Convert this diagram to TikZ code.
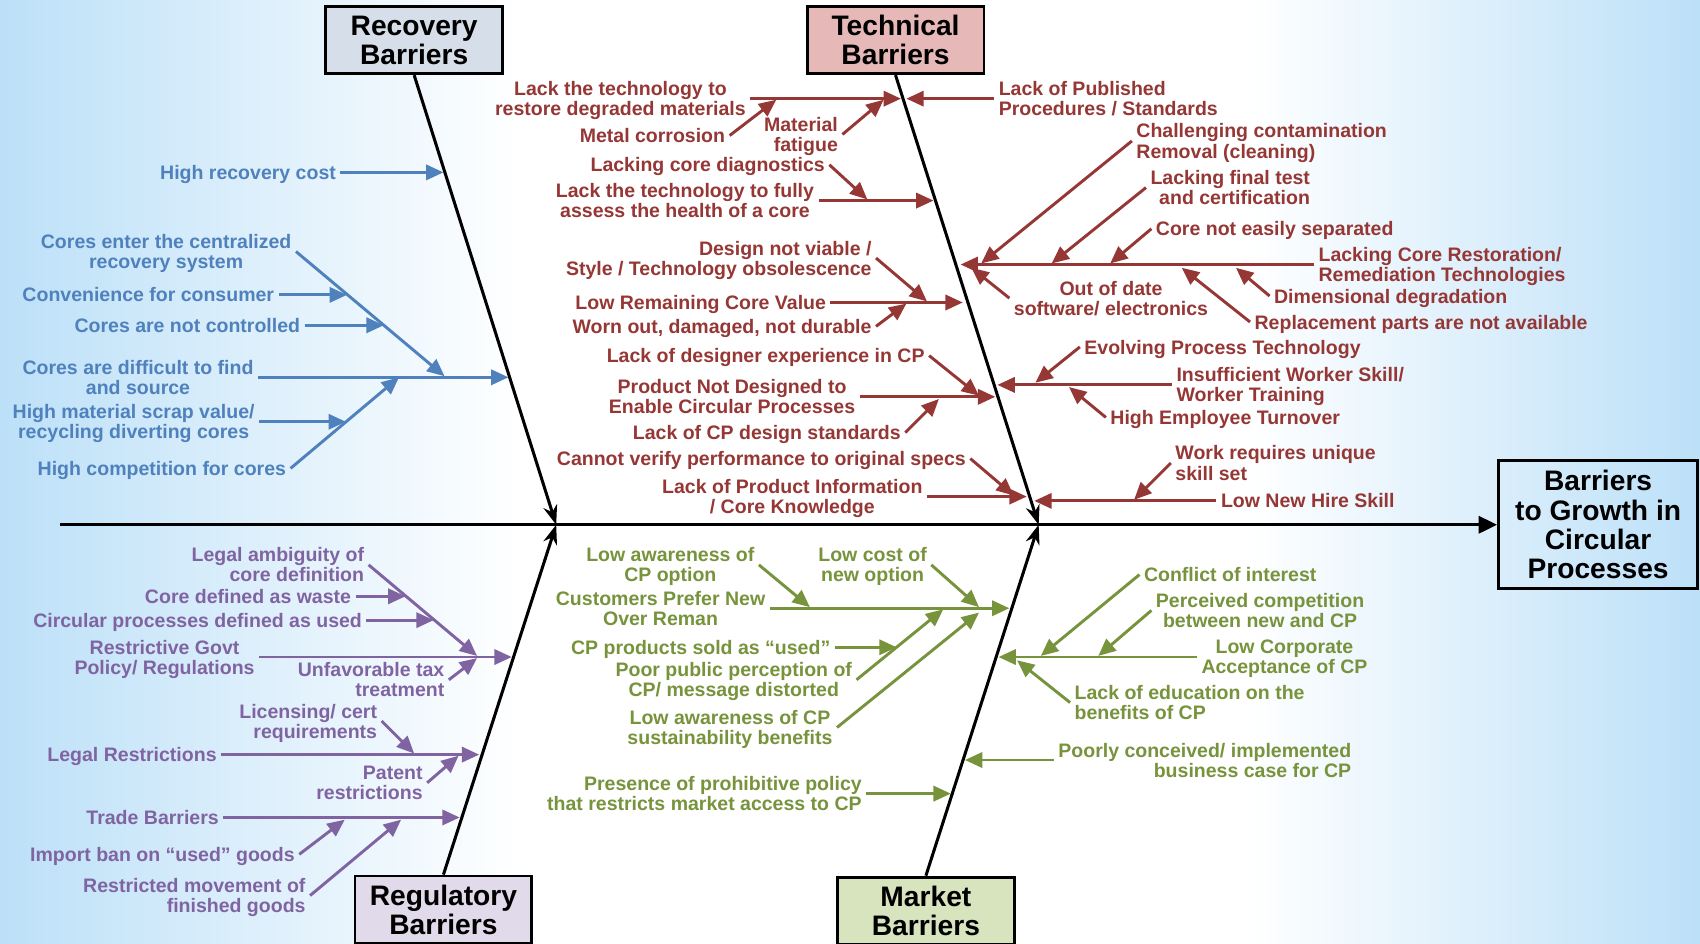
\documentclass[tikz,border=0pt]{standalone}
\usepackage{fontspec}
\setmainfont{Liberation Sans}
\usetikzlibrary{arrows.meta,calc,positioning}

\definecolor{recblue}{RGB}{79,129,189}
\definecolor{techred}{RGB}{149,55,53}
\definecolor{regpurple}{RGB}{128,100,162}
\definecolor{mktgreen}{RGB}{119,147,60}
\definecolor{recfill}{RGB}{214,222,234}
\definecolor{techfill}{RGB}{230,185,184}
\definecolor{regfill}{RGB}{224,218,234}
\definecolor{mktfill}{RGB}{215,228,189}
\definecolor{skyblue}{RGB}{188,224,248}

\begin{document}
\begin{tikzpicture}[x=1pt,y=-1pt,
    lbl/.style={font=\bfseries\fontsize{18}{18.5}\selectfont,inner sep=4pt,text depth=0pt},
    barbox/.style={draw=black,line width=2.6pt,font=\bfseries\fontsize{26}{27}\selectfont,align=center,minimum width=163pt,minimum height=62pt,inner sep=0pt},
    bone/.style={black,line width=2.8pt,-{Stealth[length=18pt,width=13pt]}},
    cause/.style={line width=2.7pt,-{Triangle[length=16pt,width=14pt]}},
    rec/.style={cause,recblue},
    tech/.style={cause,techred},
    reg/.style={cause,regpurple},
    mkt/.style={cause,mktgreen},
    rtx/.style={lbl,text=recblue},
    ttx/.style={lbl,text=techred},
    gtx/.style={lbl,text=regpurple},
    mtx/.style={lbl,text=mktgreen}]

  \useasboundingbox (0,0) rectangle (1568,870);
  \fill[white] (0,0) rectangle (1568,870);
  \shade[left color=skyblue,right color=white] (0,0) rectangle (480,870);
  \shade[left color=white,right color=skyblue] (1150,0) rectangle (1568,870);

  \node[barbox,fill=recfill] (recbox) at (382,37) {Recovery\\Barriers};
  \node[barbox,fill=techfill] (techbox) at (826,37) {Technical\\Barriers};
  \node[barbox,fill=regfill] (regbox) at (409,839) {Regulatory\\Barriers};
  \node[barbox,fill=mktfill] (mktbox) at (854,840) {Market\\Barriers};
  \node[barbox,minimum width=184pt,minimum height=118pt] (eff) at (1474,484) {Barriers\\to Growth in\\Circular\\Processes};

  \coordinate (tail) at (55,484);
  \coordinate (rjoin) at (513,484);
  \coordinate (tjoin) at (958,484);
  \draw[line width=2.8pt,-{Triangle[length=17pt,width=16pt]}] (tail) -- (eff.west);
  \draw[bone] (recbox.south) -- (rjoin);
  \draw[bone] (techbox.south) -- (tjoin);
  \draw[bone] (regbox.north) -- (rjoin);
  \draw[bone] (mktbox.north) -- (tjoin);

  % recovery
  \node[rtx,anchor=east] (hrc) at (314,159) {High recovery cost};
  \coordinate (hrcj) at (409,159);
  \draw[rec] (hrc.east) -- (hrcj);
  \node[rtx,anchor=east,align=center] (cdf) at (238,348) {Cores are difficult to find\\and source};
  \coordinate (cdfj) at (469,348);
  \draw[rec] (cdf.east) -- (cdfj);
  \node[rtx,anchor=east,align=center] (cec) at (273,232) {Cores enter the centralized\\recovery system};
  \coordinate (cecj) at (410,347);
  \draw[rec] (cec.east) -- (cecj);
  \node[rtx,anchor=east] (cfc) at (257,272) {Convenience for consumer};
  \coordinate (cfcj) at (320,272);
  \draw[rec] (cfc.east) -- (cfcj);
  \node[rtx,anchor=east] (cnc) at (281,300) {Cores are not controlled};
  \coordinate (cncj) at (354,300);
  \draw[rec] (cnc.east) -- (cncj);
  \node[rtx,anchor=east] (hcc) at (268,432) {High competition for cores};
  \coordinate (hccj) at (368,348);
  \draw[rec] (hcc.east) -- (hccj);
  \node[rtx,anchor=east,align=center] (hms) at (239,389) {High material scrap value/\\recycling diverting cores};
  \coordinate (hmsj) at (319,389);
  \draw[rec] (hms.east) -- (hmsj);

  % technical, left side
  \node[ttx,anchor=east,align=center] (ltr) at (692,91) {Lack the technology to\\restore degraded materials};
  \coordinate (ltrj) at (831,91);
  \draw[tech] (ltr.east) -- (ltrj);
  \node[ttx,anchor=east] (mco) at (673,125) {Metal corrosion};
  \coordinate (mcoj) at (716,92);
  \draw[tech] (mco.east) -- (mcoj);
  \node[ttx,anchor=east,align=right] (mfa) at (777,124) {Material\\fatigue};
  \coordinate (mfaj) at (815,92);
  \draw[tech] (mfa.east) -- (mfaj);
  \node[ttx,anchor=east,align=center] (ltf) at (755,185) {Lack the technology to fully\\assess the health of a core};
  \coordinate (ltfj) at (861,185);
  \draw[tech] (ltf.east) -- (ltfj);
  \node[ttx,anchor=east] (lcd) at (765,152) {Lacking core diagnostics};
  \coordinate (lcdj) at (800,184);
  \draw[tech] (lcd.east) -- (lcdj);
  \node[ttx,anchor=east] (lrc) at (766,279) {Low Remaining Core Value};
  \coordinate (lrcj) at (888,279);
  \draw[tech] (lrc.east) -- (lrcj);
  \node[ttx,anchor=east,align=right] (dnv) at (808,238) {Design not viable /\\Style / Technology obsolescence};
  \coordinate (dnvj) at (855,278);
  \draw[tech] (dnv.east) -- (dnvj);
  \node[ttx,anchor=east] (wod) at (808,301) {Worn out, damaged, not durable};
  \coordinate (wodj) at (836,280);
  \draw[tech] (wod.east) -- (wodj);
  \node[ttx,anchor=east,align=center] (pnd) at (793,366) {Product Not Designed to\\Enable Circular Processes};
  \coordinate (pndj) at (918,366);
  \draw[tech] (pnd.east) -- (pndj);
  \node[ttx,anchor=east] (lde) at (857,328) {Lack of designer experience in CP};
  \coordinate (ldej) at (903,365);
  \draw[tech] (lde.east) -- (ldej);
  \node[ttx,anchor=east] (lcs) at (835,399) {Lack of CP design standards};
  \coordinate (lcsj) at (866,368);
  \draw[tech] (lcs.east) -- (lcsj);
  \node[ttx,anchor=east,align=center] (lpi) at (855,458) {Lack of Product Information\\/ Core Knowledge};
  \coordinate (lpij) at (947,458);
  \draw[tech] (lpi.east) -- (lpij);
  \node[ttx,anchor=east] (cvp) at (895,423) {Cannot verify performance to original specs};
  \coordinate (cvpj) at (935,457);
  \draw[tech] (cvp.east) -- (cvpj);

  % technical, right side
  \node[ttx,anchor=west,align=left] (lps) at (917,91) {Lack of Published\\Procedures / Standards};
  \coordinate (lpsj) at (836,91);
  \draw[tech] (lps.west) -- (lpsj);
  \node[ttx,anchor=west,align=left] (lcr) at (1212,244) {Lacking Core Restoration/\\Remediation Technologies};
  \coordinate (lcrj) at (886,244);
  \draw[tech] (lcr.west) -- (lcrj);
  \node[ttx,anchor=west,align=left] (ccr) at (1044,130) {Challenging contamination\\Removal (cleaning)};
  \coordinate (ccrj) at (905,243);
  \draw[tech] (ccr.west) -- (ccrj);
  \node[ttx,anchor=west,align=right] (lft) at (1057,173) {Lacking final test\\and certification};
  \coordinate (lftj) at (970,243);
  \draw[tech] (lft.west) -- (lftj);
  \node[ttx,anchor=west] (cne) at (1062,211) {Core not easily separated};
  \coordinate (cnej) at (1024,243);
  \draw[tech] (cne.west) -- (cnej);
  \node[ttx,anchor=west,align=center] (ood) at (931,275) {Out of date\\software/ electronics};
  \coordinate (oodj) at (896,247);
  \draw[tech] (ood.west) -- (oodj);
  \node[ttx,anchor=west] (ddg) at (1171,273) {Dimensional degradation};
  \coordinate (ddgj) at (1140,247);
  \draw[tech] (ddg.west) -- (ddgj);
  \node[ttx,anchor=west] (rpn) at (1153,297) {Replacement parts are not available};
  \coordinate (rpnj) at (1090,247);
  \draw[tech] (rpn.west) -- (rpnj);
  \node[ttx,anchor=west,align=left] (iws) at (1081,355) {Insufficient Worker Skill/\\Worker Training};
  \coordinate (iwsj) at (920,355);
  \draw[tech] (iws.west) -- (iwsj);
  \node[ttx,anchor=west] (ept) at (996,320) {Evolving Process Technology};
  \coordinate (eptj) at (955,353);
  \draw[tech] (ept.west) -- (eptj);
  \node[ttx,anchor=west] (het) at (1020,385) {High Employee Turnover};
  \coordinate (hetj) at (986,357);
  \draw[tech] (het.west) -- (hetj);
  \node[ttx,anchor=west] (lnh) at (1122,462) {Low New Hire Skill};
  \coordinate (lnhj) at (954,462);
  \draw[tech] (lnh.west) -- (lnhj);
  \node[ttx,anchor=west,align=left] (wru) at (1080,427) {Work requires unique\\skill set};
  \coordinate (wruj) at (1046,461);
  \draw[tech] (wru.west) -- (wruj);

  % regulatory
  \node[gtx,anchor=east,align=center] (rgp) at (239,606) {Restrictive Govt\\Policy/ Regulations};
  \coordinate (rgpj) at (472,606);
  \draw[reg] (rgp.east) -- (rgpj);
  \node[gtx,anchor=east,align=right] (lac) at (340,521) {Legal ambiguity of\\core definition};
  \coordinate (lacj) at (440,605);
  \draw[reg] (lac.east) -- (lacj);
  \node[gtx,anchor=east] (cdw) at (328,550) {Core defined as waste};
  \coordinate (cdwj) at (374,550);
  \draw[reg] (cdw.east) -- (cdwj);
  \node[gtx,anchor=east] (cpu) at (338,572) {Circular processes defined as used};
  \coordinate (cpuj) at (400,572);
  \draw[reg] (cpu.east) -- (cpuj);
  \node[gtx,anchor=east,align=right] (utt) at (414,627) {Unfavorable tax\\treatment};
  \coordinate (uttj) at (440,607);
  \draw[reg] (utt.east) -- (uttj);
  \node[gtx,anchor=east] (lre) at (204,696) {Legal Restrictions};
  \coordinate (lrej) at (442,696);
  \draw[reg] (lre.east) -- (lrej);
  \node[gtx,anchor=east,align=right] (lcq) at (352,665) {Licensing/ cert\\requirements};
  \coordinate (lcqj) at (382,695);
  \draw[reg] (lcq.east) -- (lcqj);
  \node[gtx,anchor=east,align=right] (ptr) at (394,722) {Patent\\restrictions};
  \coordinate (ptrj) at (423,697);
  \draw[reg] (ptr.east) -- (ptrj);
  \node[gtx,anchor=east] (tbr) at (206,754) {Trade Barriers};
  \coordinate (tbrj) at (424,754);
  \draw[reg] (tbr.east) -- (tbrj);
  \node[gtx,anchor=east] (ibu) at (276,788) {Import ban on “used” goods};
  \coordinate (ibuj) at (318,756);
  \draw[reg] (ibu.east) -- (ibuj);
  \node[gtx,anchor=east,align=right] (rmf) at (286,826) {Restricted movement of\\finished goods};
  \coordinate (rmfj) at (370,756);
  \draw[reg] (rmf.east) -- (rmfj);

  % market
  \node[mtx,anchor=east,align=center] (cpn) at (710,561) {Customers Prefer New\\Over Reman};
  \coordinate (cpnj) at (931,561);
  \draw[mkt] (cpn.east) -- (cpnj);
  \node[mtx,anchor=east,align=center] (lao) at (700,521) {Low awareness of\\CP option};
  \coordinate (laoj) at (747,560);
  \draw[mkt] (lao.east) -- (laoj);
  \node[mtx,anchor=east,align=center] (lco) at (859,521) {Low cost of\\new option};
  \coordinate (lcoj) at (903,560);
  \draw[mkt] (lco.east) -- (lcoj);
  \node[mtx,anchor=east] (cps) at (770,597) {CP products sold as “used”};
  \coordinate (cpsj) at (827,597);
  \draw[mkt] (cps.east) -- (cpsj);
  \node[mtx,anchor=east,align=center] (ppp) at (790,627) {Poor public perception of\\CP/ message distorted};
  \coordinate (pppj) at (870,562);
  \draw[mkt] (ppp.east) -- (pppj);
  \node[mtx,anchor=east,align=center] (las) at (772,671) {Low awareness of CP\\sustainability benefits};
  \coordinate (lasj) at (903,565);
  \draw[mkt] (las.east) -- (lasj);
  \node[mtx,anchor=east,align=right] (ppm) at (799,732) {Presence of prohibitive policy\\that restricts market access to CP};
  \coordinate (ppmj) at (877,732);
  \draw[mkt] (ppm.east) -- (ppmj);
  \node[mtx,anchor=west,align=center] (lca) at (1104,606) {Low Corporate\\Acceptance of CP};
  \coordinate (lcaj) at (921,606);
  \draw[mkt] (lca.west) -- (lcaj);
  \node[mtx,anchor=west] (coi) at (1051,530) {Conflict of interest};
  \coordinate (coij) at (960,605);
  \draw[mkt] (coi.west) -- (coij);
  \node[mtx,anchor=west,align=center] (pcb) at (1062,563) {Perceived competition\\between new and CP};
  \coordinate (pcbj) at (1013,605);
  \draw[mkt] (pcb.west) -- (pcbj);
  \node[mtx,anchor=west,align=left] (leb) at (987,648) {Lack of education on the\\benefits of CP};
  \coordinate (lebj) at (938,609);
  \draw[mkt] (leb.west) -- (lebj);
  \node[mtx,anchor=west,align=right] (pci) at (972,701) {Poorly conceived/ implemented\\business case for CP};
  \coordinate (pcij) at (890,701);
  \draw[mkt] (pci.west) -- (pcij);
\end{tikzpicture}
\end{document}
